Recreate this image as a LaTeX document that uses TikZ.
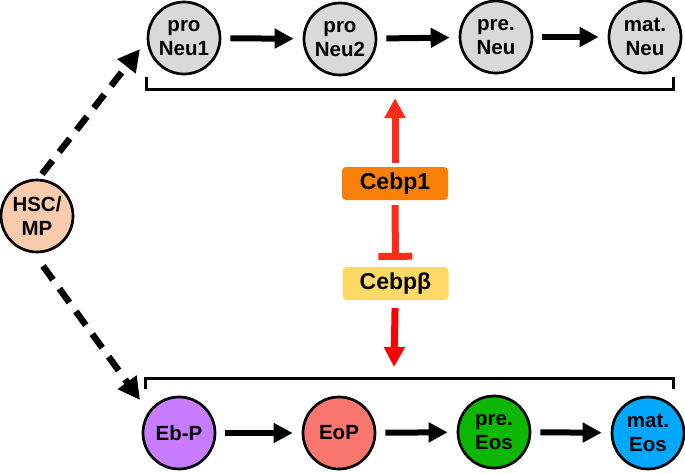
\documentclass[tikz,border=0pt]{standalone}
\usepackage{fontspec}
\setmainfont{Liberation Sans}
\usetikzlibrary{arrows.meta}
\definecolor{cgray}{HTML}{D9D9D9}
\definecolor{cpeach}{HTML}{F8CBAD}
\definecolor{cpurple}{HTML}{C77CFF}
\definecolor{csalmon}{HTML}{F8766D}
\definecolor{cgreen}{HTML}{0CB702}
\definecolor{cblue}{HTML}{00A9FF}
\definecolor{corange}{HTML}{F98008}
\definecolor{cyellow}{HTML}{FFD966}
\definecolor{cred}{HTML}{FF2A1A}
\begin{document}
\begin{tikzpicture}[x=1pt,y=-1pt,
  cell/.style={circle,draw=black,line width=2.7pt,minimum size=72pt,inner sep=0pt,align=center,
    font=\fontsize{20.5}{24}\selectfont\bfseries},
  tfbox/.style={rounded corners=4pt,minimum width=106pt,minimum height=33pt,inner sep=0pt,
    font=\fontsize{23}{25}\selectfont\bfseries},
  steparrow/.style={line width=6pt,-{Triangle[length=19pt,width=19pt]},shorten <=9pt,shorten >=9pt},
  dasharrow/.style={line width=6.5pt,dash pattern=on 17pt off 11pt,-{Triangle[length=22pt,width=22pt]}},
  bracket/.style={line width=3pt},
  regarrow/.style={line width=7pt,-{Triangle[length=20pt,width=20pt]}}
]
\useasboundingbox (0,0) rectangle (685,472);
% nodes
\node[cell,fill=cpeach] (hsc) at (37,216) {HSC/\\MP};
\node[cell,fill=cgray] (pn1) at (184,38) {pro\\Neu1};
\node[cell,fill=cgray] (pn2) at (340,39) {pro\\Neu2};
\node[cell,fill=cgray] (pren) at (496,37) {pre.\\Neu};
\node[cell,fill=cgray] (matn) at (645,37) {mat.\\Neu};
\node[cell,fill=cpurple] (ebp) at (179,433) {Eb-P};
\node[cell,fill=csalmon] (eop) at (339,433) {EoP};
\node[cell,fill=cgreen] (pree) at (494,432) {pre.\\Eos};
\node[cell,fill=cblue] (mate) at (648,433) {mat.\\Eos};
\node[tfbox,fill=corange] (cebp1) at (395,183.5) {Cebp1};
\node[tfbox,fill=cyellow] (cebpb) at (395.5,283.5) {Cebpβ};
% bracket corners
\coordinate (ta) at (146,77);
\coordinate (tb) at (146,89);
\coordinate (tc) at (673,89);
\coordinate (td) at (673,77);
\coordinate (ba) at (145,389);
\coordinate (bb) at (145,378);
\coordinate (bc) at (673,378);
\coordinate (bd) at (673,389);
\coordinate (uptip) at (395,98);
\coordinate (dntip) at (394,367);
\coordinate (dupstart) at (42,174);
\coordinate (dupend) at (140,49);
\coordinate (ddnstart) at (43,266);
\coordinate (ddnend) at (140,400);
% brackets
\draw[bracket] (ta) -- (tb) -- (tc) -- (td);
\draw[bracket] (ba) -- (bb) -- (bc) -- (bd);
% lineage steps
\draw[steparrow] (pn1) -- (pn2);
\draw[steparrow] (pn2) -- (pren);
\draw[steparrow] (pren) -- (matn);
\draw[steparrow] (ebp) -- (eop);
\draw[steparrow] (eop) -- (pree);
\draw[steparrow] (pree) -- (mate);
% dashed branches
\draw[dasharrow] (dupstart) -- (dupend);
\draw[dasharrow] (ddnstart) -- (ddnend);
% regulation
\draw[regarrow,cred,shorten <=4pt] (cebp1) -- (uptip);
\draw[line width=7pt,cred,-{Bar[width=34pt]},shorten <=5pt,shorten >=7pt] (cebp1) -- (cebpb);
\draw[regarrow,red,shorten <=8pt] (cebpb) -- (dntip);
\end{tikzpicture}
\end{document}
